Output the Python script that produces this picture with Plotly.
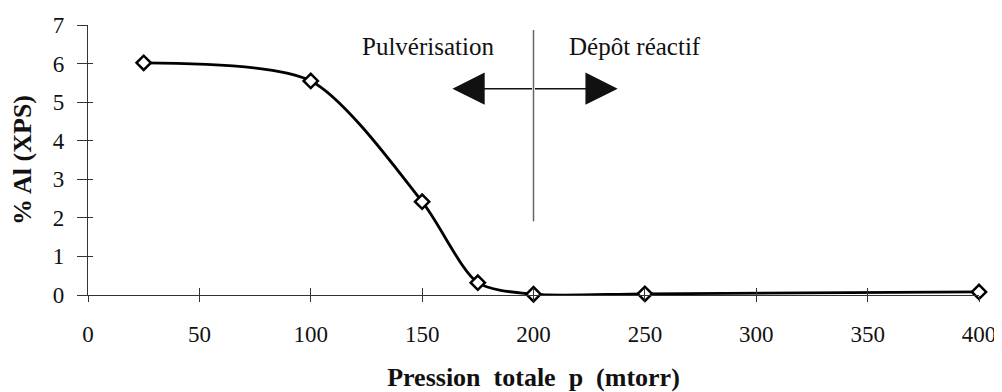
import plotly.graph_objects as go

pression = [25, 100, 150, 175, 200, 250, 400]
al_pct = [6.02, 5.55, 2.42, 0.32, 0.02, 0.03, 0.08]
x_ticks = [0, 50, 100, 150, 200, 250, 300, 350, 400]
y_ticks = [0, 1, 2, 3, 4, 5, 6, 7]

FONT = "Liberation Serif, Times New Roman, serif"

fig = go.Figure()
fig.add_trace(go.Scatter(
    x=pression, y=al_pct, mode="lines+markers",
    line=dict(color="black", width=2.8, shape="spline", smoothing=0.75),
    marker=dict(symbol="diamond", size=11, color="white",
                line=dict(color="black", width=2.5)),
    showlegend=False, cliponaxis=False,
))

axis_common = dict(showgrid=False, zeroline=False, showline=True, automargin=False,
                   ticklabeloverflow="allow",
                   linecolor="#333", linewidth=1.2, tickcolor="#333", tickwidth=1.2,
                   tickfont=dict(family=FONT, size=23, color="#111"))

fig.update_layout(
    width=994, height=384,
    margin=dict(l=80, r=23, t=17, b=97),
    plot_bgcolor="white", paper_bgcolor="white",
    xaxis=dict(range=[0, 400], tickvals=x_ticks, ticks="outside", ticklen=6,
               ticklabelstandoff=12,
               title=dict(text="<b>Pression  totale  p  (mtorr)</b>",
                          font=dict(family=FONT, size=26, color="#111"), standoff=23),
               **axis_common),
    yaxis=dict(range=[0, 7], tickvals=y_ticks, ticks="outside", ticklen=10,
               ticklabelstandoff=8,
               title=dict(text="<b>% Al (XPS)</b>",
                          font=dict(family=FONT, size=26, color="#111"), standoff=13),
               **axis_common),
    xaxis2=dict(range=[0, 400], tickvals=x_ticks, ticks="inside", ticklen=7,
                overlaying="x", anchor="y", side="bottom", showticklabels=False,
                showgrid=False, zeroline=False, showline=False,
                tickcolor="#333", tickwidth=1.2),
    yaxis2=dict(range=[0, 7], tickvals=y_ticks, ticks="inside", ticklen=5,
                overlaying="y", anchor="x", side="left", showticklabels=False,
                showgrid=False, zeroline=False, showline=False,
                tickcolor="#333", tickwidth=1.2),
)
fig.add_trace(go.Scatter(x=[None], y=[None], xaxis="x2", yaxis="y2", showlegend=False))

# vertical separator
fig.add_shape(type="line", x0=200, x1=200, y0=1.91, y1=6.87,
              line=dict(color="#666", width=1.5))

# arrows
for tip in (163.6, 237.8):
    fig.add_annotation(x=tip, y=5.35, ax=200, ay=5.35, axref="x", ayref="y",
                       xref="x", yref="y", showarrow=True, arrowhead=2,
                       arrowsize=4.3, arrowwidth=1.5, arrowcolor="#111", text="")

fig.add_annotation(x=152.6, y=6.45, text="Pulvérisation", showarrow=False,
                   font=dict(family=FONT, size=25, color="#111"))
fig.add_annotation(x=245.4, y=6.45, text="Dépôt réactif", showarrow=False,
                   font=dict(family=FONT, size=25, color="#111"))

fig.write_html("out.html")
